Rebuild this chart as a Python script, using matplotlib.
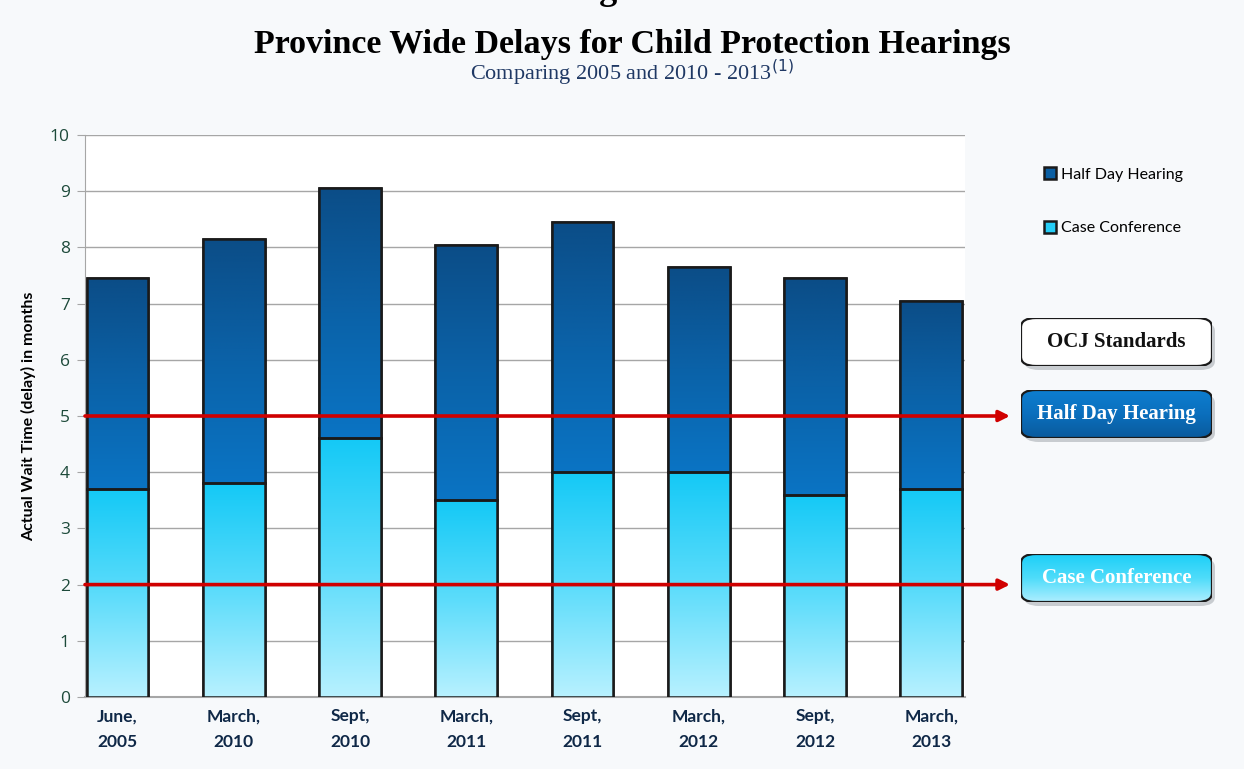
import matplotlib.pyplot as plt
import numpy as np
from matplotlib.patches import FancyBboxPatch, Rectangle
from matplotlib.colors import LinearSegmentedColormap

# data
periods = ['June,\n2005', 'March,\n2010', 'Sept,\n2010', 'March,\n2011',
           'Sept,\n2011', 'March,\n2012', 'Sept,\n2012', 'March,\n2013']
case_conference = [3.7, 3.8, 4.6, 3.5, 4.0, 4.0, 3.6, 3.7]
half_day = [3.75, 4.35, 4.45, 4.55, 4.45, 3.65, 3.85, 3.35]
standards = {'Half Day Hearing': 5, 'Case Conference': 2}

W, H = 1244, 769
fig = plt.figure(figsize=(W / 100, H / 100), dpi=100, facecolor='#f7f9fb')
ax = fig.add_axes([85 / W, 1 - 697 / H, 880 / W, 562 / H])
ax.set_facecolor('white')

x = np.arange(len(periods))
width = 0.53

cmap_case = LinearSegmentedColormap.from_list('case', ['#b8f1ff', '#5bdcfb', '#14c9f6'])
cmap_half = LinearSegmentedColormap.from_list('half', ['#0a74c4', '#0b62a8', '#0b4d87'])

b1 = ax.bar(x, case_conference, width, color='#25cdf6', edgecolor='#1a1a1a',
            linewidth=1.8, zorder=3, label='Case Conference')
b2 = ax.bar(x, half_day, width, bottom=case_conference, color='#0b5fa3',
            edgecolor='#1a1a1a', linewidth=1.8, zorder=3, label='Half Day Hearing')

grad = np.linspace(0, 1, 256).reshape(-1, 1)
for bars, cmap in [(b1, cmap_case), (b2, cmap_half)]:
    for p in bars:
        x0, y0 = p.get_x(), p.get_y()
        im = ax.imshow(grad, cmap=cmap, aspect='auto', origin='lower',
                       extent=[x0, x0 + p.get_width(), y0, y0 + p.get_height()],
                       zorder=3.5)
        im.set_clip_path(p)
        # outline drawn again on top of the gradient
        ax.add_patch(Rectangle((x0, y0), p.get_width(), p.get_height(), fill=False,
                               edgecolor='#1a1a1a', linewidth=1.8, zorder=4))

ax.set_xlim(-0.28, 7.29)
ax.set_ylim(0, 10)
ax.set_yticks(range(0, 11))
ax.yaxis.grid(True, color='#a6a6a6', linewidth=1.0, zorder=0)
ax.set_axisbelow(True)
for s in ['top', 'right']:
    ax.spines[s].set_visible(False)
ax.spines['left'].set_color('#a6a6a6')
ax.spines['bottom'].set_color('#a6a6a6')
ax.spines['bottom'].set_linewidth(1.5)
ax.tick_params(axis='y', colors='#a6a6a6', labelcolor='#1d4a3a', labelsize=12.5,
               length=6, pad=5)
ax.tick_params(axis='x', length=0, pad=8)
ax.set_xticks(x)
ax.set_xticklabels(periods, fontsize=12.5, fontweight='bold', color='#0f2847',
                   family='Lato', linespacing=1.75)
for t in ax.get_yticklabels():
    t.set_family('Open Sans')
ax.set_ylabel('Actual Wait Time (delay) in months', fontsize=11.5, fontweight='bold',
              family='Lato', labelpad=10)

# standards lines with arrows
for name, val in standards.items():
    ax.annotate('', xy=(1010 / W, val), xycoords=('figure fraction', 'data'),
                xytext=(0, val), textcoords=('axes fraction', 'data'),
                arrowprops=dict(arrowstyle='-|>', color='#d00000', lw=2.6,
                                mutation_scale=16, shrinkA=0, shrinkB=0),
                zorder=6, annotation_clip=False)

# legend
handles = [b2, b1]
leg = fig.legend(handles, ['Half Day Hearing', 'Case Conference'], loc='upper left',
                 bbox_to_anchor=(1030 / W, 1 - 153 / H), frameon=False,
                 handlelength=0.75, handleheight=0.75, handletextpad=0.3,
                 labelspacing=2.45, prop={'family': 'Lato', 'size': 11.5})
for h, c in zip(leg.legend_handles, ['#0b5fa3', '#25cdf6']):
    h.set_facecolor(c)
    h.set_edgecolor('#1a1a1a')

# standards boxes
boxes = [('OCJ Standards', 318, ['#ffffff', '#ffffff'], '#111111'),
         ('Half Day Hearing', 390, ['#0a5a9c', '#0b6fbd', '#0d7ed0'], 'white'),
         ('Case Conference', 554, ['#aeeeff', '#4fdcfa', '#1ccff8'], 'white')]
for label, top, cols, tc in boxes:
    x0, x1 = 1021 / W, 1212 / W
    h = 48 / H
    y0 = 1 - (top + 48) / H
    shadow = FancyBboxPatch((x0 + 3 / W, y0 - 4 / H), x1 - x0, h,
                            boxstyle='round,pad=0,rounding_size=0.012',
                            transform=fig.transFigure, facecolor='#c8ccd0',
                            edgecolor='none', zorder=1)
    fig.patches.append(shadow)
    bax = fig.add_axes([x0, y0, x1 - x0, h], zorder=2)
    bax.set_axis_off()
    bax.set_xlim(0, 1)
    bax.set_ylim(0, 1)
    box = FancyBboxPatch((0, 0), 1, 1, boxstyle='round,pad=0,rounding_size=0.012',
                         transform=fig.transFigure, facecolor='none',
                         edgecolor='#1a1a1a', linewidth=1.6)
    box.set_bounds(x0, y0, x1 - x0, h)
    cm = LinearSegmentedColormap.from_list('b', cols)
    im = bax.imshow(grad, cmap=cm, aspect='auto', origin='lower', extent=[0, 1, 0, 1])
    bax.add_patch(box)
    im.set_clip_path(box)
    bax.text(0.5, 0.5, label, ha='center', va='center', fontsize=15,
             fontweight='bold', color=tc, family='Liberation Serif',
             transform=bax.transAxes)

# titles
fig.text(0.508, 1.012, 'Figure 3', ha='center', va='center', fontsize=26,
         fontweight='bold', family='Liberation Serif')
fig.text(0.508, 1 - 45 / H, 'Province Wide Delays for Child Protection Hearings',
         ha='center', va='center', fontsize=24.5, fontweight='bold', family='Liberation Serif')
fig.text(0.508, 1 - 73 / H, r'Comparing 2005 and 2010 - 2013$^{(1)}$', ha='center',
         va='center', fontsize=16, color='#1f3864', family='Liberation Serif')

fig.savefig('out.png', dpi=100, facecolor=fig.get_facecolor())
